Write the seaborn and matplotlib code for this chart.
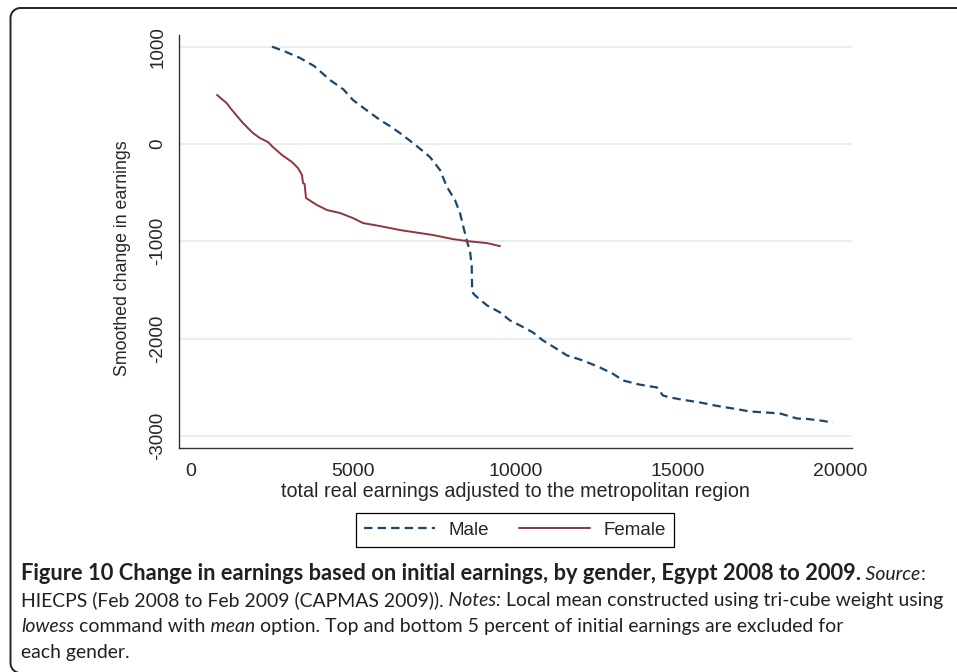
import numpy as np
import pandas as pd
import matplotlib
matplotlib.use("Agg")
import matplotlib.pyplot as plt
from matplotlib.lines import Line2D
import seaborn as sns

# Values (smoothed local means)
male_x = [2496, 2900, 3359, 3800, 4283, 4700, 4992, 5400, 5824, 6150, 6441, 6841,
          7100, 7365, 7673, 7889, 8135, 8290, 8400, 8505, 8598, 8650, 8665, 8752,
          9122, 9522, 9830, 10139, 10539, 10847, 11200, 11587, 12080, 12604, 13000,
          13313, 13800, 14360, 14545, 14761, 15200, 15686, 16200, 16703, 17227,
          17700, 18151, 18675, 19000, 19384, 19784]
male_y = [1000, 950, 884, 800, 658, 560, 452, 350, 247, 180, 112, 10,
          -60, -134, -267, -442, -576, -710, -860, -1000, -1100, -1250, -1520, -1555,
          -1658, -1730, -1812, -1864, -1936, -2018, -2090, -2172, -2224, -2296, -2360,
          -2429, -2470, -2501, -2584, -2604, -2630, -2655, -2690, -2717, -2748,
          -2758, -2768, -2820, -2825, -2840, -2861]

female_x = [801, 986, 1100, 1263, 1602, 1911, 2126, 2373, 2527, 2804, 3112, 3297,
            3421, 3451, 3500, 3544, 3883, 4191, 4592, 4992, 5300, 5824, 6441, 7057,
            7458, 8074, 8505, 9122, 9522]
female_y = [504, 452, 420, 349, 215, 112, 61, 20, -32, -113, -185, -247,
            -319, -401, -410, -555, -627, -678, -709, -761, -812, -843, -884, -915,
            -935, -977, -997, -1018, -1049]

y_ticks = [-3000, -2000, -1000, 0, 1000]
x_ticks = [0, 5000, 10000, 15000, 20000]

navy = "#1a476f"
maroon = "#90353b"

df = pd.concat([
    pd.DataFrame({"x": male_x, "y": male_y, "gender": "Male"}),
    pd.DataFrame({"x": female_x, "y": female_y, "gender": "Female"}),
])

sns.set_style("white")
plt.rcParams["font.family"] = ["Liberation Sans", "DejaVu Sans"]

W, H = 957, 672
fig = plt.figure(figsize=(W / 100, H / 100), dpi=100)
ax = fig.add_axes([179 / W, 1 - 448 / H, (852 - 179) / W, (448 - 35) / H])

sns.lineplot(data=df[df.gender == "Male"], x="x", y="y", ax=ax, color=navy,
             linewidth=1.6, sort=False, estimator=None, label="Male")
sns.lineplot(data=df[df.gender == "Female"], x="x", y="y", ax=ax, color=maroon,
             linewidth=1.4, sort=False, estimator=None, label="Female")
ax.lines[0].set_linestyle((0, (3.8, 2.3)))

ax.set_xlim(-370, 20370)
ax.set_ylim(-3123, 1120)
ax.set_xticks(x_ticks)
ax.set_yticks(y_ticks)
ax.set_xticklabels([str(v) for v in x_ticks], fontsize=14)
ax.set_yticklabels([str(v) for v in y_ticks], fontsize=13.5, rotation=90, va="center")
ax.tick_params(axis="both", length=5, width=1, color="#333333")
ax.tick_params(axis="x", pad=6)
ax.tick_params(axis="y", pad=4)
for s in ["top", "right"]:
    ax.spines[s].set_visible(False)
for s in ["left", "bottom"]:
    ax.spines[s].set_color("#333333")
    ax.spines[s].set_linewidth(1)
ax.yaxis.grid(True, color="#e6eef1", linewidth=1.3)
ax.xaxis.grid(False)
ax.set_axisbelow(True)

ax.set_xlabel("total real earnings adjusted to the metropolitan region", fontsize=14.2, labelpad=1)
ax.set_ylabel("Smoothed change in earnings", fontsize=12.8)
ax.yaxis.set_label_coords(-0.071, 0.46)
ax.get_legend().remove()

handles, labels = ax.get_legend_handles_labels()
fig.legend(handles, labels, loc="center", bbox_to_anchor=(515 / W, 1 - 530 / H),
           ncol=2, fontsize=13.5, frameon=True, fancybox=False, edgecolor="black",
           framealpha=1, handlelength=3.8, handletextpad=0.7, columnspacing=1.6,
           borderpad=0.45)
fig.legends[0].get_frame().set_linewidth(0.9)

# frame: top and left edges with rounded corners (pixel coords)
r = 10
left, top, bottom = 10.5, 8, 673
t1 = np.linspace(np.pi / 2, np.pi, 12)
t2 = np.linspace(np.pi, 1.5 * np.pi, 12)
px = np.concatenate([[W + 5], left + r + r * np.cos(t1), left + r + r * np.cos(t2), [W + 5]])
py = np.concatenate([[top], top + r - r * np.sin(t1), bottom - r - r * np.sin(t2), [bottom]])
fig.add_artist(Line2D(px / W, 1 - py / H, transform=fig.transFigure,
                      color="#222222", linewidth=1.4, clip_on=False))

# caption with mixed styles
cap_font = ["Lato", "DejaVu Sans"]
renderer = fig.canvas.get_renderer()


def seg_width(s, size, weight="normal", style="normal"):
    t = fig.text(0, 0, s, fontsize=size, fontweight=weight, fontstyle=style, family=cap_font)
    w = t.get_window_extent(renderer).width
    t.remove()
    return w


x0 = 21
line2 = [("HIECPS (Feb 2008 to Feb 2009 (CAPMAS 2009)).", "normal", "normal"),
         (" Notes:", "normal", "italic"),
         (" Local mean constructed using tri-cube weight using", "normal", "normal")]
cap_size = 10 * (938 - x0) / sum(seg_width(s, 10, wt, st) for s, wt, st in line2)
bold_text = "Figure 10 Change in earnings based on initial earnings, by gender, Egypt 2008 to 2009."
bold_size = 10 * (860 - x0) / seg_width(bold_text, 10, "bold")

lines = [
    [(bold_text, "bold", "normal"),
     (" Source", "normal", "italic"), (":", "normal", "normal")],
    line2,
    [("lowess", "normal", "italic"), (" command with", "normal", "normal"),
     (" mean", "normal", "italic"),
     (" option. Top and bottom 5 percent of initial earnings are excluded for", "normal", "normal")],
    [("each gender.", "normal", "normal")],
]
baselines = [580, 606, 632, 658]
for segs, yb in zip(lines, baselines):
    x = x0
    for s, wt, st in segs:
        size = bold_size if wt == "bold" else cap_size
        fig.text(x / W, 1 - yb / H, s, fontsize=size, fontweight=wt, fontstyle=st,
                 family=cap_font, va="baseline", color="#231f20")
        x += seg_width(s, size, wt, st)

fig.savefig("out.png", dpi=100)
